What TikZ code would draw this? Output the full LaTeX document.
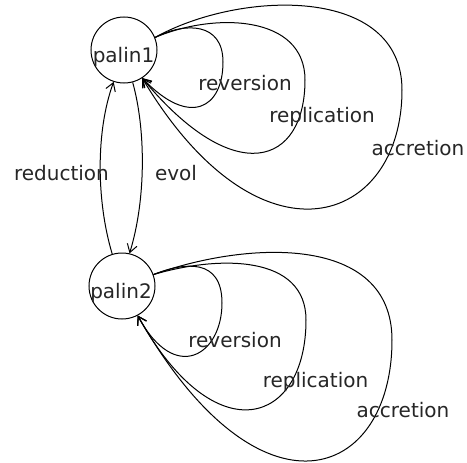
\documentclass[tikz,border=0pt]{standalone}
\usepackage{fontspec}
\setmainfont{DejaVu Sans}
\usetikzlibrary{arrows.meta}
\definecolor{ink}{HTML}{262626}
\tikzset{
  state/.style={circle, draw=black, line width=1pt, minimum size=66pt, inner sep=0pt},
  txt/.style={font=\fontsize{20}{23}\selectfont, text=ink, inner sep=0pt, anchor=base},
  edge/.style={draw=black, line width=1pt, -{Straight Barb[length=8pt,width=10pt,line width=1pt]}},
}
\begin{document}
\begin{tikzpicture}[x=1pt, y=-1pt]
\useasboundingbox (0,0) rectangle (467,463);
\fill[white] (0,0) rectangle (467,463);

% states
\node[state] (p1) at (124,50) {};
\node[state] (p2) at (122,286) {};
\node[txt] (p1t) at (123.5,63) {palin1};
\node[txt] (p2t) at (121,298) {palin2};

% transitions between the two states
\draw[edge] (p2.107) .. controls (96,200) and (96,130) .. (p1.-108);
\draw[edge] (p1.-75) .. controls (146,130) and (146,200) .. (p2.77);
\node[txt] (lred) at (61.5,180) {reduction};
\node[txt] (levol) at (176,180) {evol};

% self loops on palin1
\draw[edge] (p1.22) .. controls (185,22) and (223,22) .. (223,62)
  .. controls (223,108) and (190,128) .. (p1.-57);
\draw[edge] (p1.22) .. controls (215,12) and (305,15) .. (305,80)
  .. controls (305,165) and (235,190) .. (p1.-57);
\draw[edge] (p1.22) .. controls (240,-10) and (402,-15) .. (402,90)
  .. controls (402,225) and (260,275) .. (p1.-57);
\node[txt] (l1a) at (245,90) {reversion};
\node[txt] (l1b) at (322,122) {replication};
\node[txt] (l1c) at (418,155) {accretion};

% self loops on palin2
\draw[edge] (p2.20) .. controls (185,262) and (222,258) .. (222,303)
  .. controls (222,355) and (175,385) .. (p2.-62);
\draw[edge] (p2.20) .. controls (220,255) and (306,255) .. (306,320)
  .. controls (306,425) and (215,455) .. (p2.-62);
\draw[edge] (p2.20) .. controls (250,240) and (392,235) .. (392,340)
  .. controls (392,480) and (260,530) .. (p2.-62);
\node[txt] (l2a) at (235,347) {reversion};
\node[txt] (l2b) at (315.5,387) {replication};
\node[txt] (l2c) at (403,417) {accretion};
\end{tikzpicture}
\end{document}
